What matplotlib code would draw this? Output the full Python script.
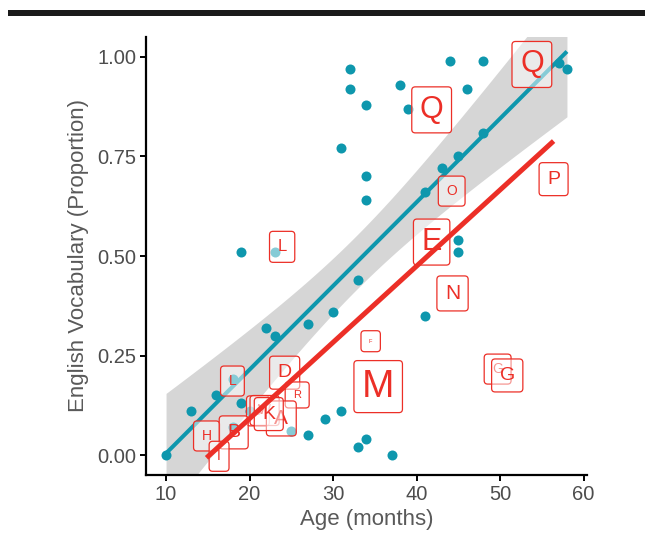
import numpy as np
import matplotlib
matplotlib.use("Agg")
import matplotlib.pyplot as plt
from matplotlib.patches import Rectangle
from matplotlib.ticker import FormatStrFormatter

plt.rcParams["font.family"] = ["Liberation Sans", "DejaVu Sans"]

TEAL = "#0E97AD"
RED = "#EC2F27"

# children: age in months vs proportion of English vocabulary
age = [10, 13, 16, 18, 18, 19, 19, 20, 22, 23, 23, 25, 27, 27, 29, 30, 31, 31, 32, 32, 33,
       33, 34, 34, 34, 34, 37, 38, 39, 41, 41, 43, 44, 45, 45, 45, 46, 48, 48, 57, 58]
vocab = [0.00, 0.11, 0.15, 0.19, 0.07, 0.51, 0.13, 0.11, 0.32, 0.51, 0.30, 0.06, 0.33, 0.05,
         0.09, 0.36, 0.77, 0.11, 0.97, 0.92, 0.44, 0.02, 0.88, 0.70, 0.64, 0.04, 0.00, 0.93,
         0.87, 0.66, 0.35, 0.72, 0.99, 0.75, 0.54, 0.51, 0.92, 0.99, 0.81, 0.985, 0.97]

# labelled cases (letter, age, vocab, text size); size also weights the red fit
lab_text = ["Q", "Q", "O", "P", "E", "N", "L", "F", "M", "D", "R", "L", "J", "W", "A", "K",
            "H", "B", "I", "G", "G"]
lab_x = [53.8, 41.8, 44.2, 56.4, 41.8, 44.3, 23.9, 34.5, 35.4, 24.2, 25.7, 17.95, 21.0, 21.8,
         23.8, 22.3, 14.85, 18.1, 16.35, 49.7, 50.85]
lab_y = [0.981, 0.867, 0.663, 0.693, 0.535, 0.406, 0.523, 0.286, 0.172, 0.207, 0.151, 0.186,
         0.111, 0.112, 0.092, 0.103, 0.048, 0.057, -0.003, 0.216, 0.200]
lab_size = [22, 22, 10, 14, 22, 15, 12, 4, 28, 14, 8, 10, 10, 10, 15, 14, 10, 14, 10, 10, 14]

T_BAND = 1.685  # 90% band


def ols(x, y, grid, w=None):
    x = np.asarray(x, float); y = np.asarray(y, float)
    b, a = np.polyfit(x, y, 1, w=w)
    n = len(x)
    s = np.sqrt(((y - (a + b * x)) ** 2).sum() / (n - 2))
    se = s * np.sqrt(1 / n + (grid - x.mean()) ** 2 / ((x - x.mean()) ** 2).sum())
    return a + b * grid, se


fig = plt.figure(figsize=(6.45, 5.45), dpi=100)
ax = fig.add_axes([146 / 645, 70 / 545, 441 / 645, 438 / 545])
fig.add_artist(Rectangle((8 / 645, 1 - 16 / 545), 1, 6 / 545, transform=fig.transFigure,
                         color="#1a1a1a", lw=0))

gx = np.linspace(min(age), max(age), 200)
fit, se = ols(age, vocab, gx)
ax.fill_between(gx, fit - T_BAND * se, fit + T_BAND * se, color="#d6d6d6", lw=0, zorder=1)
ax.scatter(age, vocab, s=52, color=TEAL, lw=0, zorder=2)
ax.plot(gx, fit, color=TEAL, lw=2.9, zorder=3, solid_capstyle="butt")

for t, x, y, sz in zip(lab_text, lab_x, lab_y, lab_size):
    fpx = sz * 100 / 72
    ax.text(x, y, t, fontsize=sz, color=RED, ha="center", va="center", zorder=4,
            bbox=dict(boxstyle=f"round,pad={8.0 / fpx:.3f},rounding_size={3.5 / fpx:.3f}",
                      fc=(1, 1, 1, 0.5), ec=RED, lw=0.9))

rx = np.linspace(min(lab_x), max(lab_x), 200)
rfit, _ = ols(lab_x, lab_y, rx, w=lab_size)  # polyfit squares w -> size^2 weights
ax.plot(rx, rfit, color=RED, lw=3.6, zorder=5, solid_capstyle="butt")

ax.set_xlim(7.6, 60.4)
ax.set_ylim(-0.05, 1.05)
ax.set_xticks([10, 20, 30, 40, 50, 60])
ax.set_yticks([0, 0.25, 0.5, 0.75, 1.0])
ax.yaxis.set_major_formatter(FormatStrFormatter("%.2f"))
for sp in ["top", "right"]:
    ax.spines[sp].set_visible(False)
for sp in ["left", "bottom"]:
    ax.spines[sp].set_linewidth(1.6)
ax.tick_params(length=4, width=1.4, labelsize=14.5, labelcolor="#4D4D4D", pad=3)
ax.set_xlabel("Age (months)", fontsize=16, color="#595959", labelpad=4)
ax.set_ylabel("English Vocabulary (Proportion)", fontsize=16, color="#595959", labelpad=6)

fig.savefig("out.png", dpi=100)
